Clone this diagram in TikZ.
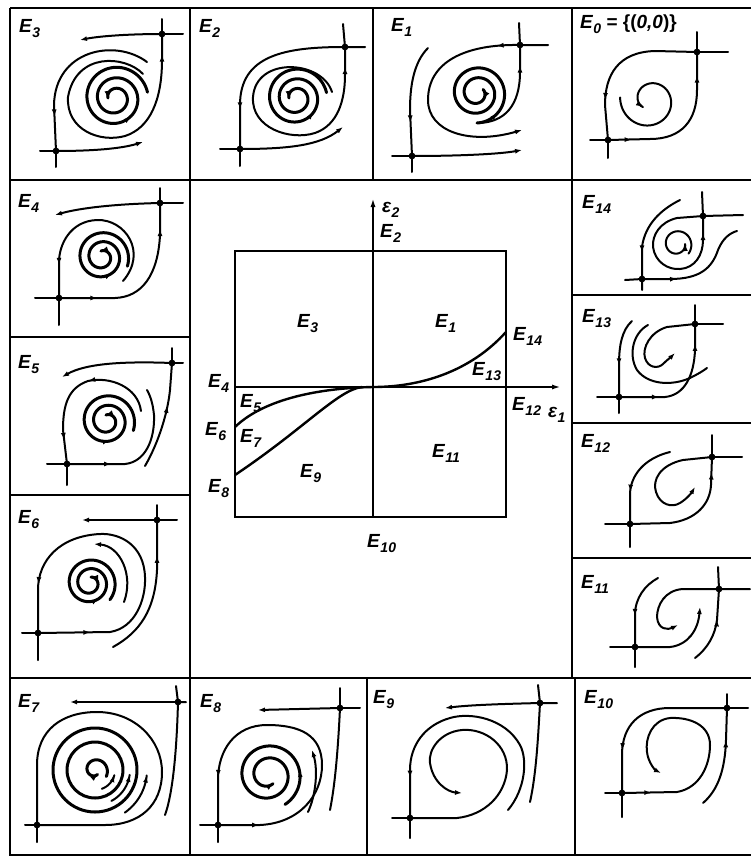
\documentclass[tikz,border=0pt]{standalone}
\usepackage{fontspec}
\setmainfont{Liberation Sans}
\usetikzlibrary{arrows.meta,decorations.markings}
\newcommand\Es[1]{{\itshape E}\kern0.6pt\raisebox{-0.3em}{\fontsize{14}{14}\selectfont\itshape #1}}
\newcommand\epsl[1]{{\itshape ε}\kern0.4pt\raisebox{-0.3em}{\fontsize{14}{14}\selectfont\itshape #1}}
\newcommand\sdl[1]{\fill (#1) circle[radius=3.4pt];}
\newcommand\spR[5]{(#1+(#2-#1)*(((#5)-(#3))/((#4)-(#3))))}
\newcommand\spir[7][]{\draw[#1] plot[domain=#6:#7,samples=160,variable=\t] ({#2+\spR{#4}{#5}{#6}{#7}{\t}*cos(\t)},{#3-\spR{#4}{#5}{#6}{#7}{\t}*sin(\t)});}
\newcommand\sparr[7]{\draw[line width=2pt,-{Latex[length=7pt,width=5pt]}] ({#1+\spR{#3}{#4}{#5}{#6}{#7-8}*cos(#7-8)},{#2-\spR{#3}{#4}{#5}{#6}{#7-8}*sin(#7-8)}) -- ({#1+\spR{#3}{#4}{#5}{#6}{#7}*cos(#7)},{#2-\spR{#3}{#4}{#5}{#6}{#7}*sin(#7)});}
\tikzset{
  traj/.style={line width=2pt,line cap=round,line join=round},
  thk/.style={line width=3pt,line cap=round,line join=round},
  endarr/.style={-{Latex[length=7pt,width=5pt]}},
  marr/.style={postaction={decorate,decoration={markings,mark=at position #1 with {\arrow{Latex[length=7pt,width=5pt]}}}}},
  frm/.style={line width=1.6pt},
  lab/.style={font=\fontsize{19}{21}\selectfont\bfseries,inner sep=0pt,anchor=base west},
}
\begin{document}
\begin{tikzpicture}[x=1pt,y=-1pt]
\useasboundingbox (0,0) rectangle (751,857);
% ---------------- frame ----------------
\draw[frm] (10,8) -- (751,8);
\draw[frm] (10,8) -- (10,855) -- (751,855);
\draw[frm] (10,180) -- (751,180);
\draw[frm] (10,678) -- (751,678);
\draw[frm] (190,8) -- (190,855);
\draw[frm] (373,8) -- (373,180);
\draw[frm] (572,8) -- (572,678);
\draw[frm] (367,678) -- (367,855);
\draw[frm] (575,678) -- (575,855);
\draw[frm] (10,337) -- (190,337);
\draw[frm] (10,495) -- (190,495);
\draw[frm] (572,295) -- (751,295);
\draw[frm] (572,423) -- (751,423);
\draw[frm] (572,558) -- (751,558);
% ---------------- labels ----------------
\node[lab] (L3) at (19,32) {\Es{3}};
\node[lab] (L2) at (199,32) {\Es{2}};
\node[lab] (L1) at (391,31) {\Es{1}};
\node[lab] (L0) at (580,28) {\Es{0} = \{(\textit{0,0})\}};
\node[lab] (L4) at (18,207) {\Es{4}};
\node[lab] (L5) at (18,368) {\Es{5}};
\node[lab] (L6) at (18,523) {\Es{6}};
\node[lab] (L7) at (18,707) {\Es{7}};
\node[lab] (L8) at (200,707) {\Es{8}};
\node[lab] (L9) at (373,703) {\Es{9}};
\node[lab] (L10) at (584,703) {\Es{10}};
\node[lab] (L14) at (582,208) {\Es{14}};
\node[lab] (L13) at (582,322) {\Es{13}};
\node[lab] (L12) at (581,447) {\Es{12}};
\node[lab] (L11) at (581,588) {\Es{11}};
% ---------------- central diagram ----------------
\draw[line width=2pt] (235,251) rectangle (506,517);
\draw[line width=2pt,-{Latex[length=9pt,width=5pt]}] (373,517) -- (373,198);
\draw[line width=2pt,-{Latex[length=9pt,width=5pt]}] (235,387) -- (561,387);
\draw[line width=2.4pt] (373,387) .. controls (420,387) and (470,372) .. (506,332);
\draw[line width=2.4pt] (373,387) .. controls (322,388) and (265,398) .. (235,427);
\draw[line width=2.4pt] (362,387) .. controls (338,390) and (305,428) .. (235,475);
\node[lab] (c2e) at (382,212) {\epsl{2}};
\node[lab] (c2) at (380,237) {\Es{2}};
\node[lab] (c3) at (297,327) {\Es{3}};
\node[lab] (c1) at (435,327) {\Es{1}};
\node[lab] (c14) at (513,340) {\Es{14}};
\node[lab] (c13) at (472,375) {\Es{13}};
\node[lab] (c4) at (208,387) {\Es{4}};
\node[lab] (c5) at (240,407) {\Es{5}};
\node[lab] (c6) at (205,435) {\Es{6}};
\node[lab] (c7) at (240,442) {\Es{7}};
\node[lab] (c8) at (208,492) {\Es{8}};
\node[lab] (c9) at (300,477) {\Es{9}};
\node[lab] (c11) at (432,457) {\Es{11}};
\node[lab] (c10) at (367,547) {\Es{10}};
\node[lab] (c12) at (512,410) {\Es{12}};
\node[lab] (c1e) at (548,417) {\epsl{1}};
% ---------------- E3 ----------------
\coordinate (e3a) at (56,151); \coordinate (e3b) at (162,34);
\draw[traj] (40,151) -- (e3a) -- (56,167);
\draw[traj] (162,19) -- (e3b) -- (183,34);
\draw[traj,endarr] (e3b) .. controls (130,34) and (100,36) .. (80,40);
\draw[traj,endarr] (e3a) .. controls (90,151) and (120,149) .. (143,142);
\draw[traj,marr=0.8] (147,62) .. controls (115,38) and (55,50) .. (54,105) -- (e3a);
\draw[traj,marr=0.93] (143,74) .. controls (125,55) and (76,52) .. (68,97) .. controls (66,130) and (100,143) .. (125,136) .. controls (150,128) and (162,100) .. (162,60) -- (e3b);
\spir[thk]{115}{98}{33}{7}{10}{900}
\sparr{115}{98}{33}{7}{10}{900}{900}
\sparr{115}{98}{33}{7}{10}{900}{310}
\sdl{e3a}\sdl{e3b}
% ---------------- E2 ----------------
\coordinate (e2a) at (240,149); \coordinate (e2b) at (345,47);
\draw[traj] (220,149) -- (e2a) -- (240,166);
\draw[traj] (343,24) -- (e2b) -- (365,47);
\draw[traj,marr=0.78] (e2b) .. controls (285,47) and (240,55) .. (240,105) -- (e2a);
\draw[traj,endarr] (e2a) .. controls (290,149) and (320,145) .. (343,127);
\draw[traj,marr=0.93] (332,92) .. controls (322,60) and (256,56) .. (253,97) .. controls (251,128) and (290,141) .. (315,133) .. controls (338,125) and (345,100) .. (345,75) -- (e2b);
\spir[thk]{296}{98}{31}{7}{10}{900}
\sparr{296}{98}{31}{7}{10}{900}{900}
\sparr{296}{98}{31}{7}{10}{900}{320}
\sdl{e2a}\sdl{e2b}
% ---------------- E1 ----------------
\coordinate (e1a) at (412,156); \coordinate (e1b) at (520,45);
\draw[traj] (392,156) -- (e1a) -- (412,172);
\draw[traj] (519,23) -- (e1b) -- (548,45);
\draw[traj,endarr,marr=0.1] (e1b) .. controls (465,44) and (428,62) .. (428,100) .. controls (428,132) and (470,145) .. (522,130);
\draw[traj,marr=0.7] (428,48) .. controls (414,62) and (410,85) .. (410,110) -- (e1a);
\draw[traj,endarr] (e1a) .. controls (460,156) and (500,154) .. (522,150);
\draw[traj,marr=0.8] (477,123) .. controls (505,123) and (520,105) .. (520,72) -- (e1b);
\spir[thk]{477}{93}{30}{7}{-90}{750}
\sparr{477}{93}{30}{7}{-90}{750}{750}
\sparr{477}{93}{30}{7}{-90}{750}{-45}
\sdl{e1a}\sdl{e1b}
% ---------------- E0 ----------------
\coordinate (e0a) at (608,140); \coordinate (e0b) at (697,52);
\draw[traj] (590,140) -- (e0a) -- (608,158);
\draw[traj] (697,32) -- (e0b) -- (728,52);
\draw[traj,marr=0.75] (e0b) -- (655,51) .. controls (618,52) and (605,75) .. (605,105) -- (e0a);
\draw[traj,marr=0.15,marr=0.85] (e0a) -- (650,139) .. controls (682,139) and (697,120) .. (697,90) -- (e0b);
\spir[traj]{650}{100}{30}{10}{175}{585}
\sparr{650}{100}{30}{10}{175}{585}{585}
\sdl{e0a}\sdl{e0b}
% ---------------- E4 ----------------
\coordinate (e4a) at (59,298); \coordinate (e4b) at (160,203);
\draw[traj] (35,298) -- (e4a) -- (59,325);
\draw[traj] (160,188) -- (e4b) -- (183,203);
\draw[traj,endarr] (e4b) .. controls (115,204) and (80,208) .. (55,215);
\draw[traj,marr=0.22,marr=0.85] (e4a) -- (115,298) .. controls (142,297) and (158,275) .. (160,235) -- (e4b);
\draw[traj,marr=0.82] (123,281) .. controls (148,252) and (125,219) .. (97,220) .. controls (70,221) and (59,245) .. (59,262) -- (e4a);
\spir[thk]{102}{257}{27}{6}{-20}{820}
\sparr{102}{257}{27}{6}{-20}{820}{820}
\sparr{102}{257}{27}{6}{-20}{820}{300}
\sdl{e4a}\sdl{e4b}
% ---------------- E5 ----------------
\coordinate (e5a) at (67,464); \coordinate (e5b) at (172,363);
\draw[traj] (47,464) -- (e5a) -- (67,485);
\draw[traj] (172,348) -- (e5b) -- (183,363);
\draw[traj,endarr] (e5b) .. controls (120,361) and (85,364) .. (62,377);
\draw[traj,marr=0.42,marr=0.85] (141,411) .. controls (138,387) and (110,376) .. (88,381) .. controls (68,388) and (63,405) .. (63,430) -- (e5a);
\draw[traj,marr=0.3] (e5a) -- (125,464) .. controls (145,462) and (155,440) .. (154,415) .. controls (153,405) and (151,397) .. (147,390);
\draw[traj,marr=0.6] (145,466) .. controls (160,440) and (168,410) .. (170,390) -- (e5b);
\spir[thk]{107}{421}{28}{6}{-20}{820}
\sparr{107}{421}{28}{6}{-20}{820}{820}
\sparr{107}{421}{28}{6}{-20}{820}{278}
\sdl{e5a}\sdl{e5b}
% ---------------- E6 ----------------
\coordinate (e6a) at (38,633); \coordinate (e6b) at (157,520);
\draw[traj] (22,633) -- (e6a) -- (38,660);
\draw[traj] (157,505) -- (e6b) -- (177,520);
\draw[traj,endarr] (e6b) -- (82,520);
\draw[traj,marr=0.15,marr=0.86] (e6a) -- (110,632) .. controls (135,628) and (146,600) .. (145,577) .. controls (144,545) and (120,533) .. (100,534) .. controls (60,536) and (38,560) .. (38,590) -- (e6a);
\draw[traj,marr=0.75] (113,647) .. controls (140,632) and (155,610) .. (157,570) -- (e6b);
\draw[traj,endarr] (124,602) .. controls (134,575) and (120,546) .. (94,544);
\spir[thk]{90}{583}{26}{6}{-40}{800}
\sparr{90}{583}{26}{6}{-40}{800}{800}
\sparr{90}{583}{26}{6}{-40}{800}{298}
\sdl{e6a}\sdl{e6b}
% ---------------- E7 ----------------
\coordinate (e7a) at (37,825); \coordinate (e7b) at (178,702);
\draw[traj] (25,825) -- (e7a) -- (37,842);
\draw[traj] (176,686) -- (e7b) -- (186,702);
\draw[traj,endarr] (e7b) -- (70,702);
\draw[traj] (e7b) .. controls (177,740) and (174,790) .. (165,815);
\draw[traj] (e7a) -- (37,765) .. controls (37,730) and (62,712) .. (97,712) .. controls (135,712) and (162,740) .. (162,772) .. controls (162,805) and (140,825) .. (105,825) -- (e7a);
\draw[thk] (95,770) circle[radius=42pt];
\draw[thk] (95,770) circle[radius=28pt];
\spir[thk]{95}{770}{13}{5}{-30}{300}
\sparr{95}{770}{13}{5}{-30}{300}{300}
\spir[traj]{95}{770}{20}{20}{-70}{-15}
\sparr{95}{770}{20}{20}{-70}{-15}{-15}
\spir[traj]{95}{770}{35}{35}{-62}{-8}
\sparr{95}{770}{35}{35}{-62}{-8}{-8}
\spir[traj]{95}{770}{52}{52}{-55}{-6}
\sparr{95}{770}{52}{52}{-55}{-6}{-6}
\sdl{e7a}\sdl{e7b}
% ---------------- E8 ----------------
\coordinate (e8a) at (218,825); \coordinate (e8b) at (340,708);
\draw[traj] (200,825) -- (e8a) -- (218,842);
\draw[traj] (340,688) -- (e8b) -- (360,708);
\draw[traj,endarr] (e8b) -- (258,710);
\draw[traj] (e8b) .. controls (338,750) and (335,785) .. (330,810);
\draw[traj,marr=0.12,marr=0.86] (e8a) -- (260,825) .. controls (300,823) and (322,795) .. (322,765) .. controls (322,735) and (300,725) .. (267,725) .. controls (235,725) and (218,750) .. (218,780) -- (e8a);
\draw[traj,endarr] (308,812) .. controls (316,795) and (318,770) .. (312,750);
\spir[thk]{268}{775}{34}{10}{-60}{660}
\sparr{268}{775}{34}{10}{-60}{660}{660}
\sparr{268}{775}{34}{10}{-60}{660}{9}
\sdl{e8a}\sdl{e8b}
% ---------------- E9 ----------------
\coordinate (e9a) at (410,818); \coordinate (e9b) at (540,703);
\draw[traj] (392,818) -- (e9a) -- (410,838);
\draw[traj] (538,685) -- (e9b) -- (557,703);
\draw[traj,endarr] (e9b) .. controls (500,704) and (470,705) .. (445,708);
\draw[traj] (e9b) .. controls (538,740) and (536,775) .. (530,802);
\draw[traj,marr=0.85] (508,810) .. controls (525,790) and (528,760) .. (520,745) .. controls (505,718) and (470,712) .. (450,718) .. controls (425,725) and (410,745) .. (410,770) -- (e9a);
\draw[traj,endarr] (e9a) -- (457,818) .. controls (485,815) and (505,795) .. (507,770) .. controls (508,745) and (485,728) .. (462,730) .. controls (440,732) and (428,750) .. (430,763) .. controls (433,783) and (448,792) .. (462,793);
\sdl{e9a}\sdl{e9b}
% ---------------- E10 ----------------
\coordinate (e10a) at (622,793); \coordinate (e10b) at (727,708);
\draw[traj] (605,793) -- (e10a) -- (622,817);
\draw[traj] (727,694) -- (e10b) -- (748,708);
\draw[traj,marr=0.75] (e10b) -- (670,708) .. controls (640,708) and (622,725) .. (622,755) -- (e10a);
\draw[traj,marr=0.68] (703,803) .. controls (718,790) and (725,770) .. (726,740) -- (e10b);
\draw[traj,endarr,marr=0.12] (e10a) -- (677,792) .. controls (700,788) and (710,765) .. (710,745) .. controls (710,725) and (690,717) .. (670,718) .. controls (652,720) and (645,738) .. (647,752) .. controls (648,762) and (655,770) .. (661,773);
\sdl{e10a}\sdl{e10b}
% ---------------- E11 ----------------
\coordinate (e11a) at (635,647); \coordinate (e11b) at (719,589);
\draw[traj] (610,647) -- (e11a) -- (635,667);
\draw[traj] (718,567) -- (e11b) -- (750,589);
\draw[traj,endarr] (e11b) -- (683,589) .. controls (665,590) and (657,605) .. (657,617) .. controls (658,630) and (668,630) .. (678,625);
\draw[traj,marr=0.6] (658,578) .. controls (645,585) and (635,598) .. (635,615) -- (e11a);
\draw[traj,endarr] (e11a) -- (670,647) .. controls (688,645) and (698,630) .. (700,607);
\draw[traj,marr=0.6] (695,658) .. controls (708,648) and (715,635) .. (717,620) -- (e11b);
\sdl{e11a}\sdl{e11b}
% ---------------- E12 ----------------
\coordinate (e12a) at (630,524); \coordinate (e12b) at (712,457);
\draw[traj] (605,524) -- (e12a) -- (630,547);
\draw[traj] (712,435) -- (e12b) -- (742,457);
\draw[traj,marr=0.65] (670,452) .. controls (645,458) and (630,475) .. (630,495) -- (e12a);
\draw[traj,marr=0.88] (e12a) -- (670,523) .. controls (695,520) and (710,505) .. (711,485) -- (e12b);
\draw[traj,endarr] (e12b) -- (683,460) .. controls (660,465) and (652,480) .. (656,492) .. controls (660,505) and (672,508) .. (680,503) .. controls (688,498) and (692,492) .. (695,487);
\sdl{e12a}\sdl{e12b}
% ---------------- E13 ----------------
\coordinate (e13a) at (619,397); \coordinate (e13b) at (695,324);
\draw[traj] (597,397) -- (e13a) -- (619,413);
\draw[traj] (695,305) -- (e13b) -- (723,324);
\draw[traj,marr=0.6] (632,321) .. controls (622,330) and (619,345) .. (619,365) -- (e13a);
\draw[traj,marr=0.3,marr=0.85] (e13a) -- (665,397) .. controls (685,395) and (694,375) .. (695,350) -- (e13b);
\draw[traj] (648,325) .. controls (633,333) and (628,355) .. (637,370) .. controls (648,385) and (672,386) .. (690,378) .. controls (698,374) and (703,371) .. (707,368);
\draw[traj,endarr] (e13b) -- (667,327) .. controls (650,332) and (642,348) .. (645,358) .. controls (648,368) and (658,369) .. (663,364) .. controls (667,360) and (671,357) .. (675,353);
\sdl{e13a}\sdl{e13b}
% ---------------- E14 ----------------
\coordinate (e14a) at (642,279); \coordinate (e14b) at (703,216);
\draw[traj] (625,280) -- (e14a) -- (642,290);
\draw[traj] (702,192) -- (e14b) -- (743,215);
\draw[traj,marr=0.72] (680,200) .. controls (660,210) and (645,225) .. (642,247) -- (e14a);
\draw[traj,marr=0.9] (e14b) -- (677,218) .. controls (660,222) and (652,235) .. (653,247) .. controls (655,262) and (668,270) .. (680,269) .. controls (695,268) and (703,255) .. (703,240) -- (e14b);
\spir[traj]{677}{244}{15}{8}{-40}{360}
\sparr{677}{244}{15}{8}{-40}{360}{360}
\draw[traj,marr=0.3] (e14a) -- (670,279) .. controls (700,279) and (712,268) .. (718,250) .. controls (723,238) and (730,233) .. (737,231);
\sdl{e14a}\sdl{e14b}
\end{tikzpicture}
\end{document}
